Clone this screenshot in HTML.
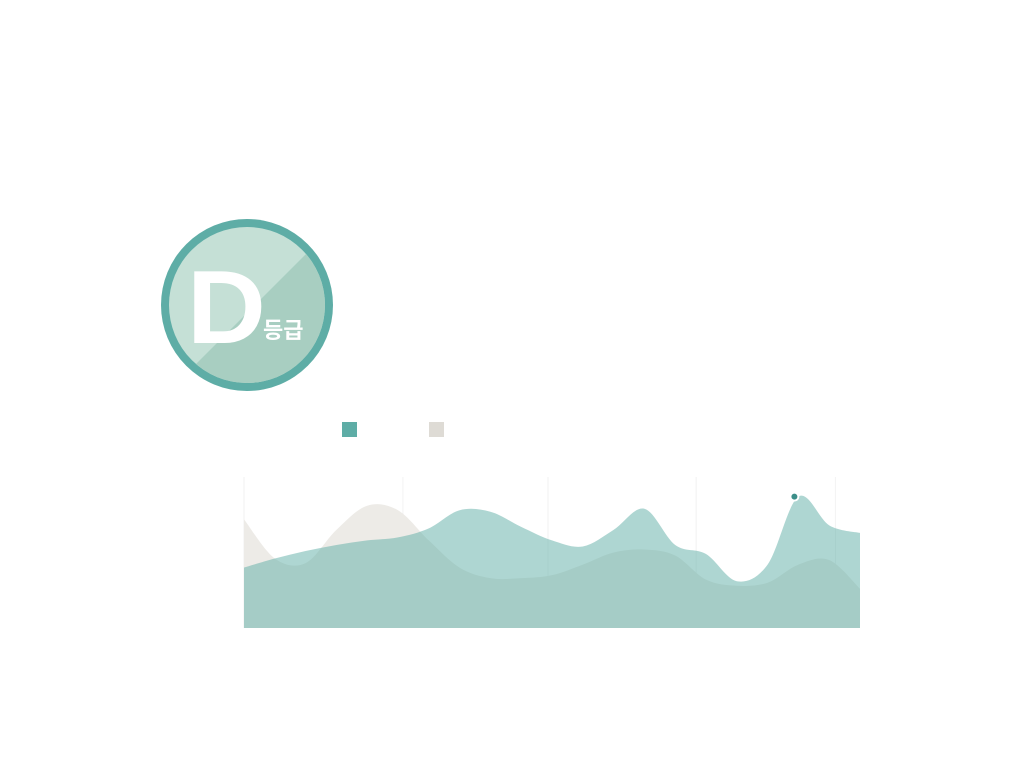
<!DOCTYPE html>
<html><head><meta charset="utf-8"><style>
body{margin:0;width:1024px;height:768px;background:#fff;overflow:hidden;font-family:"Liberation Sans","Noto Sans CJK KR",sans-serif}
</style></head><body>
<svg width="1024" height="768">
<defs><clipPath id="cc"><circle cx="247" cy="305" r="78"/></clipPath></defs>
<g>
<circle cx="247" cy="305" r="86" fill="#5eada6"/>
<g clip-path="url(#cc)"><rect x="160" y="220" width="180" height="180" fill="#c5e0d6"/>
<polygon points="340,220 340,400 160,400" fill="#a8cec1"/></g>
<text x="187" y="343" font-size="104" font-weight="bold" fill="#fff" transform="translate(187 0) scale(1.05 1) translate(-187 0)">D</text>
<text x="263" y="338" font-size="22" font-weight="bold" fill="#fff">등급</text>
</g>
<rect x="342" y="422" width="15" height="15" fill="#5eada6"/>
<rect x="429" y="422" width="15" height="15" fill="#dedbd5"/>
<g id="grid"></g><g id="plot"></g>
</svg>
<script>
const categories=['1','2','3','4','5','6','7','8','9','10','11','12','13','14','15','16','17','18','19','20','21'];
const seriesA=[40,46,51,55,58,60,66,78,77,67,58,54,65,79,55,49,31,42,87,68,63];
const seriesB=[72,46,43,65,81,78,58,40,33,33,35,42,50,52,48,32,28,30,42,45,26];
const gridX=[0,5.16,9.87,14.68,19.2];
const highlightIndex=18;
const X0=244,X1=860,Y0=628,Y1=477;
const xs=i=>X0+(X1-X0)*i/(categories.length-1);
const ys=v=>Y0-(Y0-Y1)*v/100;
const ns='http://www.w3.org/2000/svg';
function path(vals){
  const p=vals.map((v,i)=>[xs(i),ys(v)]);
  let d='M'+X0+','+Y0+'L'+p[0][0]+','+p[0][1];
  for(let i=0;i<p.length-1;i++){
    const a=p[Math.max(0,i-1)],b=p[i],c=p[i+1],e=p[Math.min(p.length-1,i+2)];
    const t=6;
    d+='C'+(b[0]+(c[0]-a[0])/t)+','+(b[1]+(c[1]-a[1])/t)+' '+(c[0]-(e[0]-b[0])/t)+','+(c[1]-(e[1]-b[1])/t)+' '+c[0]+','+c[1];
  }
  return d+'L'+X1+','+Y0+'Z';
}
const grid=document.getElementById('grid');
gridX.forEach(g=>{const l=document.createElementNS(ns,'line');


const x=xs(g);l.setAttribute('x1',x);l.setAttribute('x2',x);l.setAttribute('y1',Y1);l.setAttribute('y2',Y0);l.setAttribute('stroke','#f2f2f2');grid.appendChild(l);});
const plot=document.getElementById('plot');
const b=document.createElementNS(ns,'path');


b.setAttribute('d',path(seriesB));b.setAttribute('fill','#edebe7');plot.appendChild(b);
const a=document.createElementNS(ns,'path');


a.setAttribute('d',path(seriesA));a.setAttribute('fill','rgba(94,173,166,0.5)');plot.appendChild(a);
const c=document.createElementNS(ns,'circle');


c.setAttribute('cx',xs(highlightIndex)-4);c.setAttribute('cy',ys(seriesA[highlightIndex]));c.setAttribute('r',4);c.setAttribute('fill','#3d8f89');c.setAttribute('stroke','#fff');c.setAttribute('stroke-width',2);plot.appendChild(c);
</script>
</body></html>
